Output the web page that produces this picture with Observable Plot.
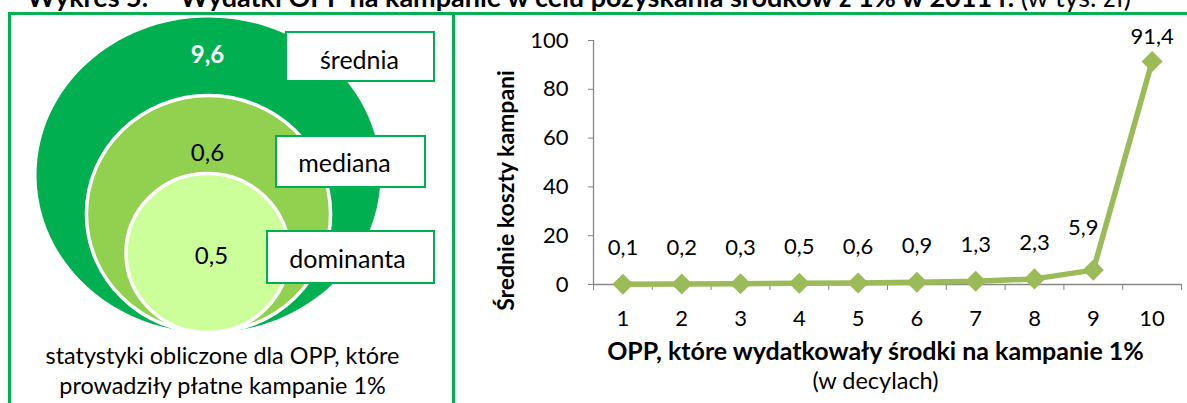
<!DOCTYPE html>
<html><head><meta charset="utf-8">
<script src="https://cdn.jsdelivr.net/npm/d3@7"></script>
<script src="https://cdn.jsdelivr.net/npm/@observablehq/plot@0.6"></script>
<style>
body{margin:0;width:1187px;height:403px;overflow:hidden;background:#fff;position:relative;font-family:Lato,sans-serif;}
#title{position:absolute;left:27px;top:-17px;font-size:27px;line-height:27px;font-weight:bold;white-space:nowrap;color:#000}
#title .num{display:inline-block;width:153px}
#title .unit{font-weight:normal}
.fr{position:absolute;background:#00B050}
#left{position:absolute;left:0;top:0}
#right{position:absolute;left:455px;top:0}
</style></head>
<body>
<div id="title"><span class="num">Wykres 5.</span>Wydatki OPP na kampanie w celu pozyskania środków z 1% w 2011 r. <span class="unit">(w tys. zł)</span></div>
<div id="left"></div>
<div id="right"></div>
<div class="fr" style="left:8px;top:12px;width:1179px;height:3px"></div>
<div class="fr" style="left:8px;top:12px;width:3px;height:391px"></div>
<div class="fr" style="left:452px;top:12px;width:3px;height:391px"></div>
<script>
// ---- data ----
const statNames = ["średnia", "mediana", "dominanta"];
const statValues = [9.6, 0.6, 0.5];
const captionLines = ["statystyki obliczone dla OPP, które", "prowadziły płatne kampanie 1%"];

const deciles = [1, 2, 3, 4, 5, 6, 7, 8, 9, 10];
const avgCosts = [0.1, 0.2, 0.3, 0.5, 0.6, 0.9, 1.3, 2.3, 5.9, 91.4];
const yTicks = [0, 20, 40, 60, 80, 100];
const yTitle = "Średnie koszty kampani";
const xTitle = "OPP, które wydatkowały środki na kampanie 1%";
const xSubtitle = "(w decylach)";

const fmt = v => d3.format(".1f")(v).replace(".", ",");

// ---- left panel layout (pixels) ----
const ringLayout = [
  {cx: 208, ry: 157.5, k: 1.092, fill: "#00B050", text: "#fff", weight: "bold", tx: 207, ty: 55,
   box: [286, 434, 32, 81], lx: 359, ly: 60},
  {cx: 208, ry: 118.5, k: 1.03, fill: "#92D050", text: "#000", weight: "normal", tx: 207, ty: 153,
   box: [276, 425, 136, 187], lx: 344, ly: 163},
  {cx: 207, ry: 79.5, k: 1.025, fill: "#CCFF99", text: "#000", weight: "normal", tx: 211, ty: 256,
   box: [267, 434, 231, 283], lx: 347, ly: 259}
];
const bottomY = 332;
const stats = statNames.map((name, i) => ({name, value: statValues[i], ...ringLayout[i]}));

function ellipseSymbol(k) {
  return {
    draw(ctx, size) {
      const r = Math.sqrt(size / Math.PI), rx = r * k, ry = r, c = 0.5522847498;
      ctx.moveTo(rx, 0);
      ctx.bezierCurveTo(rx, c * ry, c * rx, ry, 0, ry);
      ctx.bezierCurveTo(-c * rx, ry, -rx, c * ry, -rx, 0);
      ctx.bezierCurveTo(-rx, -c * ry, -c * rx, -ry, 0, -ry);
      ctx.bezierCurveTo(c * rx, -ry, rx, -c * ry, rx, 0);
      ctx.closePath();
    }
  };
}

const leftMarks = [];
stats.forEach((s, i) => {
  leftMarks.push(Plot.dot([s], {
    x: d => d.cx, y: d => bottomY - d.ry, r: d => d.ry,
    symbol: ellipseSymbol(s.k), fill: s.fill,
    stroke: i === 0 ? "none" : "#fff", strokeWidth: 3.5
  }));
});
stats.forEach(s => {
  leftMarks.push(Plot.text([s], {x: d => d.tx, y: d => d.ty, text: d => fmt(d.value),
    fill: s.text, fontWeight: s.weight, fontSize: 24}));
});
leftMarks.push(Plot.rect(stats, {x1: d => d.box[0], x2: d => d.box[1], y1: d => d.box[2], y2: d => d.box[3],
  fill: "#fff", stroke: "#00B050", strokeWidth: 2}));
leftMarks.push(Plot.text(stats, {x: d => d.lx, y: d => d.ly, text: "name", fill: "#000", fontSize: 25}));
leftMarks.push(Plot.text(captionLines, {x: () => 222, y: (d, i) => 356 + i * 30, text: d => d, fill: "#000", fontSize: 23.4}));

const left = Plot.plot({
  width: 452, height: 403, margin: 0,
  x: {type: "identity"}, y: {type: "identity"}, r: {type: "identity"},
  axis: null,
  style: {fontFamily: "Lato", background: "transparent", overflow: "visible"},
  marks: leftMarks
});
document.getElementById("left").append(left);

// ---- right panel: line chart ----
const rows = deciles.map((d, i) => ({decile: d, value: avgCosts[i]}));
const boundaries = d3.range(deciles.length + 1).map(i => i + 0.5);
const gray = "#868686", olive = "#9BBB59";

const right = Plot.plot({
  width: 732, height: 403,
  marginLeft: 138, marginRight: 6, marginTop: 40, marginBottom: 119,
  x: {type: "linear", domain: [0.5, 10.5]},
  y: {domain: [0, 100]},
  style: {fontFamily: "Lato", fontSize: "22px", background: "transparent", overflow: "visible"},
  marks: [
    Plot.ruleX([0.5], {y1: 0, y2: 100, stroke: gray, strokeWidth: 1.3}),
    Plot.ruleY([0], {x1: 0.5, x2: 10.5, stroke: gray, strokeWidth: 1.3}),
    Plot.axisY({ticks: yTicks, tickSize: 5, tickPadding: 20, fontSize: 22, stroke: gray, fill: "#000", label: null}),
    Plot.axisX({ticks: boundaries, tickSize: 6, tickFormat: () => "", stroke: gray, label: null}),
    Plot.axisX({ticks: deciles, tickSize: 0, tickPadding: 26, fontSize: 22, fill: "#000", label: null}),
    Plot.line(rows, {x: "decile", y: "value", stroke: olive, strokeWidth: 5.5}),
    Plot.dot(rows, {x: "decile", y: "value", symbol: "diamond2", r: 9.5, fill: olive}),
    Plot.text(rows.filter(d => d.decile < 9), {x: "decile", y: "value", text: d => fmt(d.value), dy: -36, fontSize: 22, fill: "#000"}),
    Plot.text(rows.filter(d => d.decile === 9), {x: "decile", y: "value", text: d => fmt(d.value), dx: -10, dy: -42, fontSize: 22, fill: "#000"}),
    Plot.text(rows.filter(d => d.decile === 10), {x: "decile", y: "value", text: d => fmt(d.value), dy: -25, fontSize: 22, fill: "#000"}),
    Plot.text([yTitle], {frameAnchor: "left", textAnchor: "middle", rotate: -90, dx: -87, dy: 28, fontSize: 23, fontWeight: "bold", fill: "#000"}),
    Plot.text([xTitle], {frameAnchor: "bottom", dx: -12, dy: 75, fontSize: 25, fontWeight: "bold", fill: "#000"}),
    Plot.text([xSubtitle], {frameAnchor: "bottom", dx: -12, dy: 104, fontSize: 23.5, fill: "#000"})
  ]
});
document.getElementById("right").append(right);
</script>
</body></html>
